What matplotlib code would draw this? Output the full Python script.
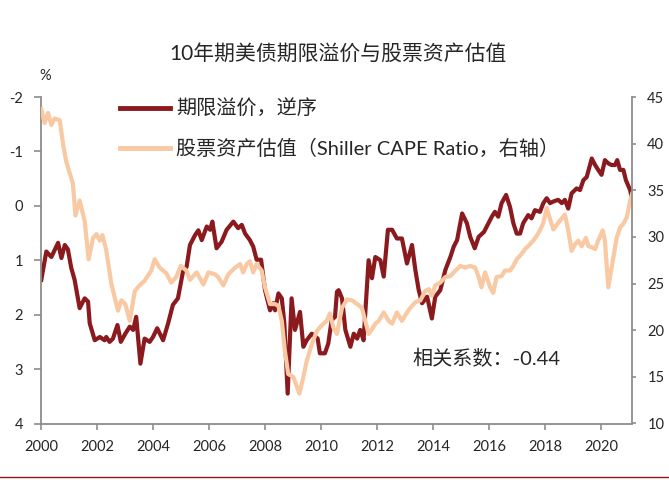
import matplotlib
matplotlib.use("Agg")
import matplotlib.pyplot as plt
from matplotlib.lines import Line2D

# 期限溢价（%），逆序显示
tp_year = [2000.01, 2000.19, 2000.37, 2000.61, 2000.73, 2000.85, 2000.96, 2001.08, 2001.20, 2001.38,
           2001.56, 2001.68, 2001.74, 2001.92, 2002.10, 2002.27, 2002.33, 2002.45, 2002.57, 2002.73,
           2002.85, 2003.01, 2003.17, 2003.29, 2003.40, 2003.55, 2003.70, 2003.88, 2004.00, 2004.15,
           2004.36, 2004.54, 2004.71, 2004.89, 2005.07, 2005.20, 2005.32, 2005.50, 2005.62, 2005.74,
           2005.92, 2006.04, 2006.12, 2006.27, 2006.45, 2006.63, 2006.87, 2007.04, 2007.17, 2007.29,
           2007.46, 2007.58, 2007.70, 2007.86, 2008.00, 2008.18, 2008.30, 2008.36, 2008.48, 2008.60,
           2008.69, 2008.81, 2008.95, 2009.07, 2009.25, 2009.37, 2009.49, 2009.67, 2009.88, 2009.96,
           2010.14, 2010.26, 2010.38, 2010.50, 2010.57, 2010.63, 2010.75, 2010.87, 2011.05, 2011.17,
           2011.29, 2011.40, 2011.52, 2011.70, 2011.82, 2011.94, 2012.12, 2012.24, 2012.39, 2012.54,
           2012.71, 2012.89, 2013.07, 2013.25, 2013.37, 2013.49, 2013.61, 2013.79, 2013.96, 2014.08,
           2014.26, 2014.44, 2014.62, 2014.74, 2014.86, 2015.04, 2015.21, 2015.33, 2015.49, 2015.63,
           2015.82, 2016.10, 2016.21, 2016.33, 2016.45, 2016.61, 2016.75, 2016.87, 2016.99, 2017.11,
           2017.22, 2017.40, 2017.52, 2017.64, 2017.82, 2017.94, 2018.06, 2018.18, 2018.30, 2018.47,
           2018.60, 2018.71, 2018.83, 2018.95, 2019.13, 2019.25, 2019.37, 2019.49, 2019.67, 2019.79,
           2019.90, 2020.02, 2020.14, 2020.26, 2020.38, 2020.50, 2020.58, 2020.68, 2020.80, 2020.89,
           2021.04, 2021.11]
tp_value = [1.36, 0.84, 0.94, 0.68, 0.96, 0.72, 0.80, 1.14, 1.36, 1.88,
            1.70, 1.76, 2.16, 2.47, 2.41, 2.47, 2.41, 2.50, 2.44, 2.19,
            2.50, 2.35, 2.22, 2.28, 2.04, 2.90, 2.44, 2.50, 2.41, 2.25,
            2.47, 2.16, 1.82, 1.70, 1.21, 1.12, 0.72, 0.54, 0.45, 0.63,
            0.38, 0.44, 0.29, 0.78, 0.66, 0.44, 0.29, 0.41, 0.35, 0.51,
            0.63, 0.75, 0.99, 0.99, 1.55, 1.92, 1.79, 1.92, 1.61, 1.70,
            2.16, 3.45, 1.70, 2.28, 1.95, 2.59, 2.47, 2.35, 2.44, 2.71,
            2.71, 2.53, 2.10, 2.04, 1.58, 1.55, 1.70, 2.28, 2.59, 2.35,
            2.44, 2.28, 2.47, 1.00, 1.33, 0.94, 1.00, 1.30, 0.44, 0.44,
            0.60, 0.60, 1.06, 0.72, 1.18, 1.55, 1.79, 1.67, 2.07, 1.67,
            1.55, 1.18, 0.94, 0.75, 0.63, 0.14, 0.32, 0.57, 0.78, 0.57,
            0.48, 0.20, 0.11, 0.20, -0.05, -0.20, 0.02, 0.32, 0.51, 0.51,
            0.32, 0.17, 0.23, 0.08, 0.11, -0.05, -0.14, -0.05, -0.08, -0.11,
            -0.05, -0.11, 0.05, -0.23, -0.32, -0.29, -0.47, -0.53, -0.87, -0.75,
            -0.66, -0.57, -0.84, -0.78, -0.75, -0.75, -0.84, -0.66, -0.66, -0.47,
            -0.29, -0.11]

# Shiller CAPE（右轴）
cape_year = [2000.01, 2000.13, 2000.25, 2000.37, 2000.49, 2000.67, 2000.79, 2000.90, 2001.02, 2001.14,
             2001.23, 2001.38, 2001.56, 2001.70, 2001.86, 2001.98, 2002.10, 2002.19, 2002.33, 2002.51,
             2002.75, 2002.87, 2003.01, 2003.17, 2003.35, 2003.52, 2003.70, 2003.94, 2004.06, 2004.24,
             2004.48, 2004.65, 2004.83, 2004.99, 2005.19, 2005.32, 2005.56, 2005.80, 2005.98, 2006.21,
             2006.33, 2006.51, 2006.69, 2006.93, 2007.11, 2007.22, 2007.35, 2007.46, 2007.58, 2007.70,
             2007.88, 2008.00, 2008.18, 2008.36, 2008.48, 2008.60, 2008.71, 2008.83, 2009.01, 2009.23,
             2009.37, 2009.49, 2009.67, 2009.85, 2010.02, 2010.20, 2010.32, 2010.44, 2010.57, 2010.75,
             2010.93, 2011.11, 2011.29, 2011.46, 2011.58, 2011.70, 2011.82, 2011.94, 2012.06, 2012.24,
             2012.42, 2012.54, 2012.71, 2012.89, 2013.07, 2013.19, 2013.37, 2013.55, 2013.72, 2013.85,
             2013.96, 2014.08, 2014.26, 2014.44, 2014.62, 2014.74, 2014.98, 2015.15, 2015.33, 2015.51,
             2015.63, 2015.73, 2015.86, 2016.04, 2016.15, 2016.27, 2016.45, 2016.57, 2016.75, 2016.87,
             2016.99, 2017.17, 2017.29, 2017.46, 2017.58, 2017.70, 2017.82, 2017.94, 2018.06, 2018.18,
             2018.30, 2018.47, 2018.71, 2018.83, 2018.95, 2019.07, 2019.19, 2019.31, 2019.46, 2019.55,
             2019.67, 2019.79, 2019.90, 2020.06, 2020.14, 2020.26, 2020.44, 2020.56, 2020.68, 2020.80,
             2020.92, 2021.04, 2021.11]
cape_value = [43.7, 42.2, 43.3, 42.0, 42.7, 42.5, 39.9, 38.1, 36.9, 35.7,
              32.3, 33.9, 31.7, 27.6, 29.9, 30.3, 29.6, 30.2, 28.6, 25.0,
              22.1, 23.2, 22.8, 21.0, 24.2, 24.8, 25.3, 26.4, 27.6, 26.7,
              26.1, 25.1, 25.7, 26.9, 26.4, 25.4, 26.2, 24.9, 26.2, 26.0,
              25.7, 24.8, 26.0, 26.7, 27.1, 26.2, 27.1, 27.4, 26.2, 27.1,
              26.4, 24.6, 22.8, 22.8, 22.6, 21.0, 17.8, 15.3, 15.0, 13.2,
              15.0, 16.7, 18.5, 19.9, 20.5, 21.0, 21.8, 20.3, 19.6, 22.4,
              23.3, 23.2, 22.8, 22.4, 21.0, 19.6, 20.1, 20.7, 21.0, 21.9,
              21.0, 20.7, 21.9, 21.0, 21.9, 22.4, 23.0, 23.2, 24.2, 24.4,
              23.7, 24.8, 25.1, 25.7, 25.8, 26.2, 26.9, 26.7, 26.9, 26.7,
              25.7, 24.6, 26.2, 24.6, 24.0, 25.7, 25.8, 26.4, 26.4, 26.9,
              27.6, 28.2, 28.7, 29.2, 29.6, 30.1, 30.7, 31.5, 33.1, 31.9,
              30.8, 31.5, 32.4, 30.7, 28.5, 29.2, 29.6, 29.0, 29.9, 29.0,
              28.9, 28.7, 29.6, 30.7, 29.6, 24.6, 27.8, 29.9, 31.0, 31.4,
              32.1, 33.9, 34.6]

x_ticks = list(range(2000, 2021, 2))
left_ticks = [-2, -1, 0, 1, 2, 3, 4]
right_ticks = [10, 15, 20, 25, 30, 35, 40, 45]

title = '10年期美债期限溢价与股票资产估值'
label_tp = '期限溢价，逆序'
label_cape = '股票资产估值（Shiller CAPE Ratio，右轴）'
note = '相关系数：-0.44'

RED = '#8b1a1f'
PEACH = '#f8c9a2'
GRAY = '#8c8c8c'
TXT = '#262626'

plt.rcParams['font.family'] = ['Lato', 'Noto Sans CJK SC', 'DejaVu Sans']
plt.rcParams['axes.unicode_minus'] = False

fig = plt.figure(figsize=(6.69, 4.8), dpi=100)
ax = fig.add_axes([41 / 669, 56.5 / 480, 591 / 669, 326.5 / 480])
ax2 = ax.twinx()

ax.plot(tp_year, tp_value, color=RED, lw=3.0, solid_joinstyle='round', label=label_tp)
ax2.plot(cape_year, cape_value, color=PEACH, lw=3.0, solid_joinstyle='round', label=label_cape)

ax.set_xlim(2000, 2021.107)
ax.set_ylim(4, -2)
ax2.set_ylim(10, 45)
ax.set_xticks(x_ticks)
ax.set_xticklabels([str(y) for y in x_ticks])
ax.set_yticks(left_ticks)
ax2.set_yticks(right_ticks)

for a in (ax, ax2):
    a.spines['top'].set_visible(False)
    for s in a.spines.values():
        s.set_color(GRAY)
        s.set_linewidth(1.3)
ax.spines['right'].set_visible(False)
ax2.spines['left'].set_visible(False)
ax2.spines['bottom'].set_visible(False)

ax.tick_params(axis='x', direction='out', length=4, width=1.2, color=GRAY,
               labelsize=10.5, labelcolor=TXT, pad=8)
ax.tick_params(axis='y', direction='out', length=5, width=1.2, color=GRAY,
               labelsize=10.5, labelcolor=TXT, pad=8)
ax2.tick_params(axis='y', direction='out', length=3, width=1.2, color=GRAY,
                labelsize=10.5, labelcolor=TXT, pad=8)

# 图例
handles = [Line2D([], [], color=RED, lw=3.5), Line2D([], [], color=PEACH, lw=3.5)]
ax2.legend(handles, [label_tp, label_cape], loc='upper left',
           bbox_to_anchor=(120 / 669, 1 - 99 / 480), bbox_transform=fig.transFigure,
           frameon=False, fontsize=14.5, handlelength=2.5, handletextpad=0.3,
           labelspacing=1.05, borderpad=0, borderaxespad=0, labelcolor=TXT)

fig.text(338 / 669, 1 - 54 / 480, title, ha='center', va='center', fontsize=15, color=TXT)
fig.text(45 / 669, 1 - 76 / 480, '%', ha='center', va='center', fontsize=10.5, color=TXT)
fig.text(412 / 669, 1 - 358 / 480, note, ha='left', va='center', fontsize=14.5, color=TXT)

# 底部装饰线
fig.add_artist(Line2D([0, 1], [3 / 480, 3 / 480], color=RED, lw=1.0))

fig.savefig('out.png', dpi=100)
